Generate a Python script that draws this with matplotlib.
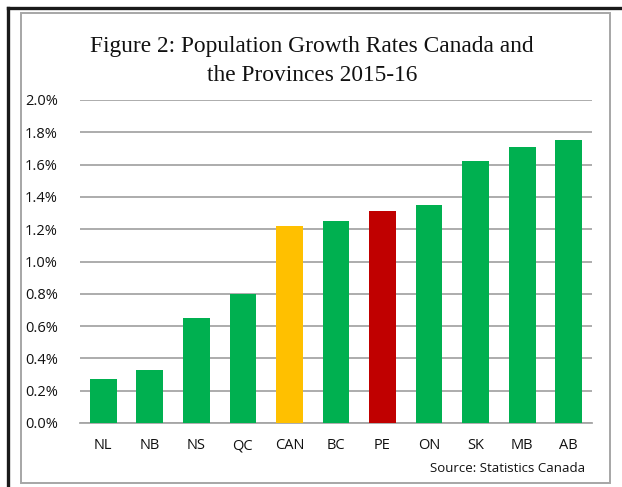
import numpy as np
import matplotlib.pyplot as plt
from matplotlib.lines import Line2D
from matplotlib.patches import Rectangle
from matplotlib.ticker import FuncFormatter

regions = ["NL", "NB", "NS", "QC", "CAN", "BC", "PE", "ON", "SK", "MB", "AB"]
growth = [0.27, 0.33, 0.65, 0.80, 1.22, 1.25, 1.31, 1.35, 1.62, 1.71, 1.75]
yticks = [0.0, 0.2, 0.4, 0.6, 0.8, 1.0, 1.2, 1.4, 1.6, 1.8, 2.0]

GREEN = "#00B050"
YELLOW = "#FFC000"
RED = "#C00000"
GRID = "#A6A6A6"

colors = [GREEN] * len(regions)
colors[regions.index("CAN")] = YELLOW
colors[regions.index("PE")] = RED

W, H = 622, 487
fig = plt.figure(figsize=(W / 100, H / 100), dpi=100)

def px(x, y):
    # pixel coords (from top-left) -> figure fraction
    return x / W, 1 - y / H

# outer dark frame (top + left edges)
fig.add_artist(Line2D([8 / W, 1], [1 - 8 / H] * 2, color="#1a1a1a", lw=2.4,
                      transform=fig.transFigure))
fig.add_artist(Line2D([8 / W] * 2, [0, 1 - 8 / H], color="#1a1a1a", lw=2.4,
                      transform=fig.transFigure))

# chart area border
x0, y0 = px(21, 483)
x1, y1 = px(610, 13)
fig.add_artist(Rectangle((x0, y0), x1 - x0, y1 - y0, transform=fig.transFigure,
                         fill=False, edgecolor=GRID, lw=1.4))

l, t = px(80, 100)
r, b = px(592, 423)
ax = fig.add_axes([l, b, r - l, t - b])

x = np.arange(len(regions))
ax.bar(x, growth, width=0.575, color=colors, zorder=3)

ax.set_ylim(0, 2.0)
ax.set_xlim(-0.5, len(regions) - 0.5)
ax.set_yticks(yticks)
ax.yaxis.set_major_formatter(FuncFormatter(lambda v, p: f"{v:.1f}%"))
ax.set_xticks(x)
ax.set_xticklabels(regions)
ax.grid(axis="y", color=GRID, lw=1.3, zorder=0)
for s in ["top", "right", "left"]:
    ax.spines[s].set_visible(False)
ax.spines["bottom"].set_color(GRID)
ax.spines["bottom"].set_linewidth(1.3)
ax.tick_params(axis="both", length=0, colors="#111111")
ax.tick_params(axis="y", pad=16)
ax.tick_params(axis="x", pad=11)
for lab in ax.get_xticklabels() + ax.get_yticklabels():
    lab.set_family("Open Sans")
    lab.set_fontsize(10.5)

tx, ty = px(312, 61)
fig.text(tx, ty, "Figure 2: Population Growth Rates Canada and\nthe Provinces 2015-16",
         ha="center", va="center", fontsize=16.8, family="Liberation Serif",
         linespacing=1.5, color="#111111")

sx, sy = px(585, 468)
fig.text(sx, sy, "Source: Statistics Canada", ha="right", va="center",
         fontsize=9.5, family="Open Sans", color="#111111")

fig.savefig("out.png", dpi=100)
